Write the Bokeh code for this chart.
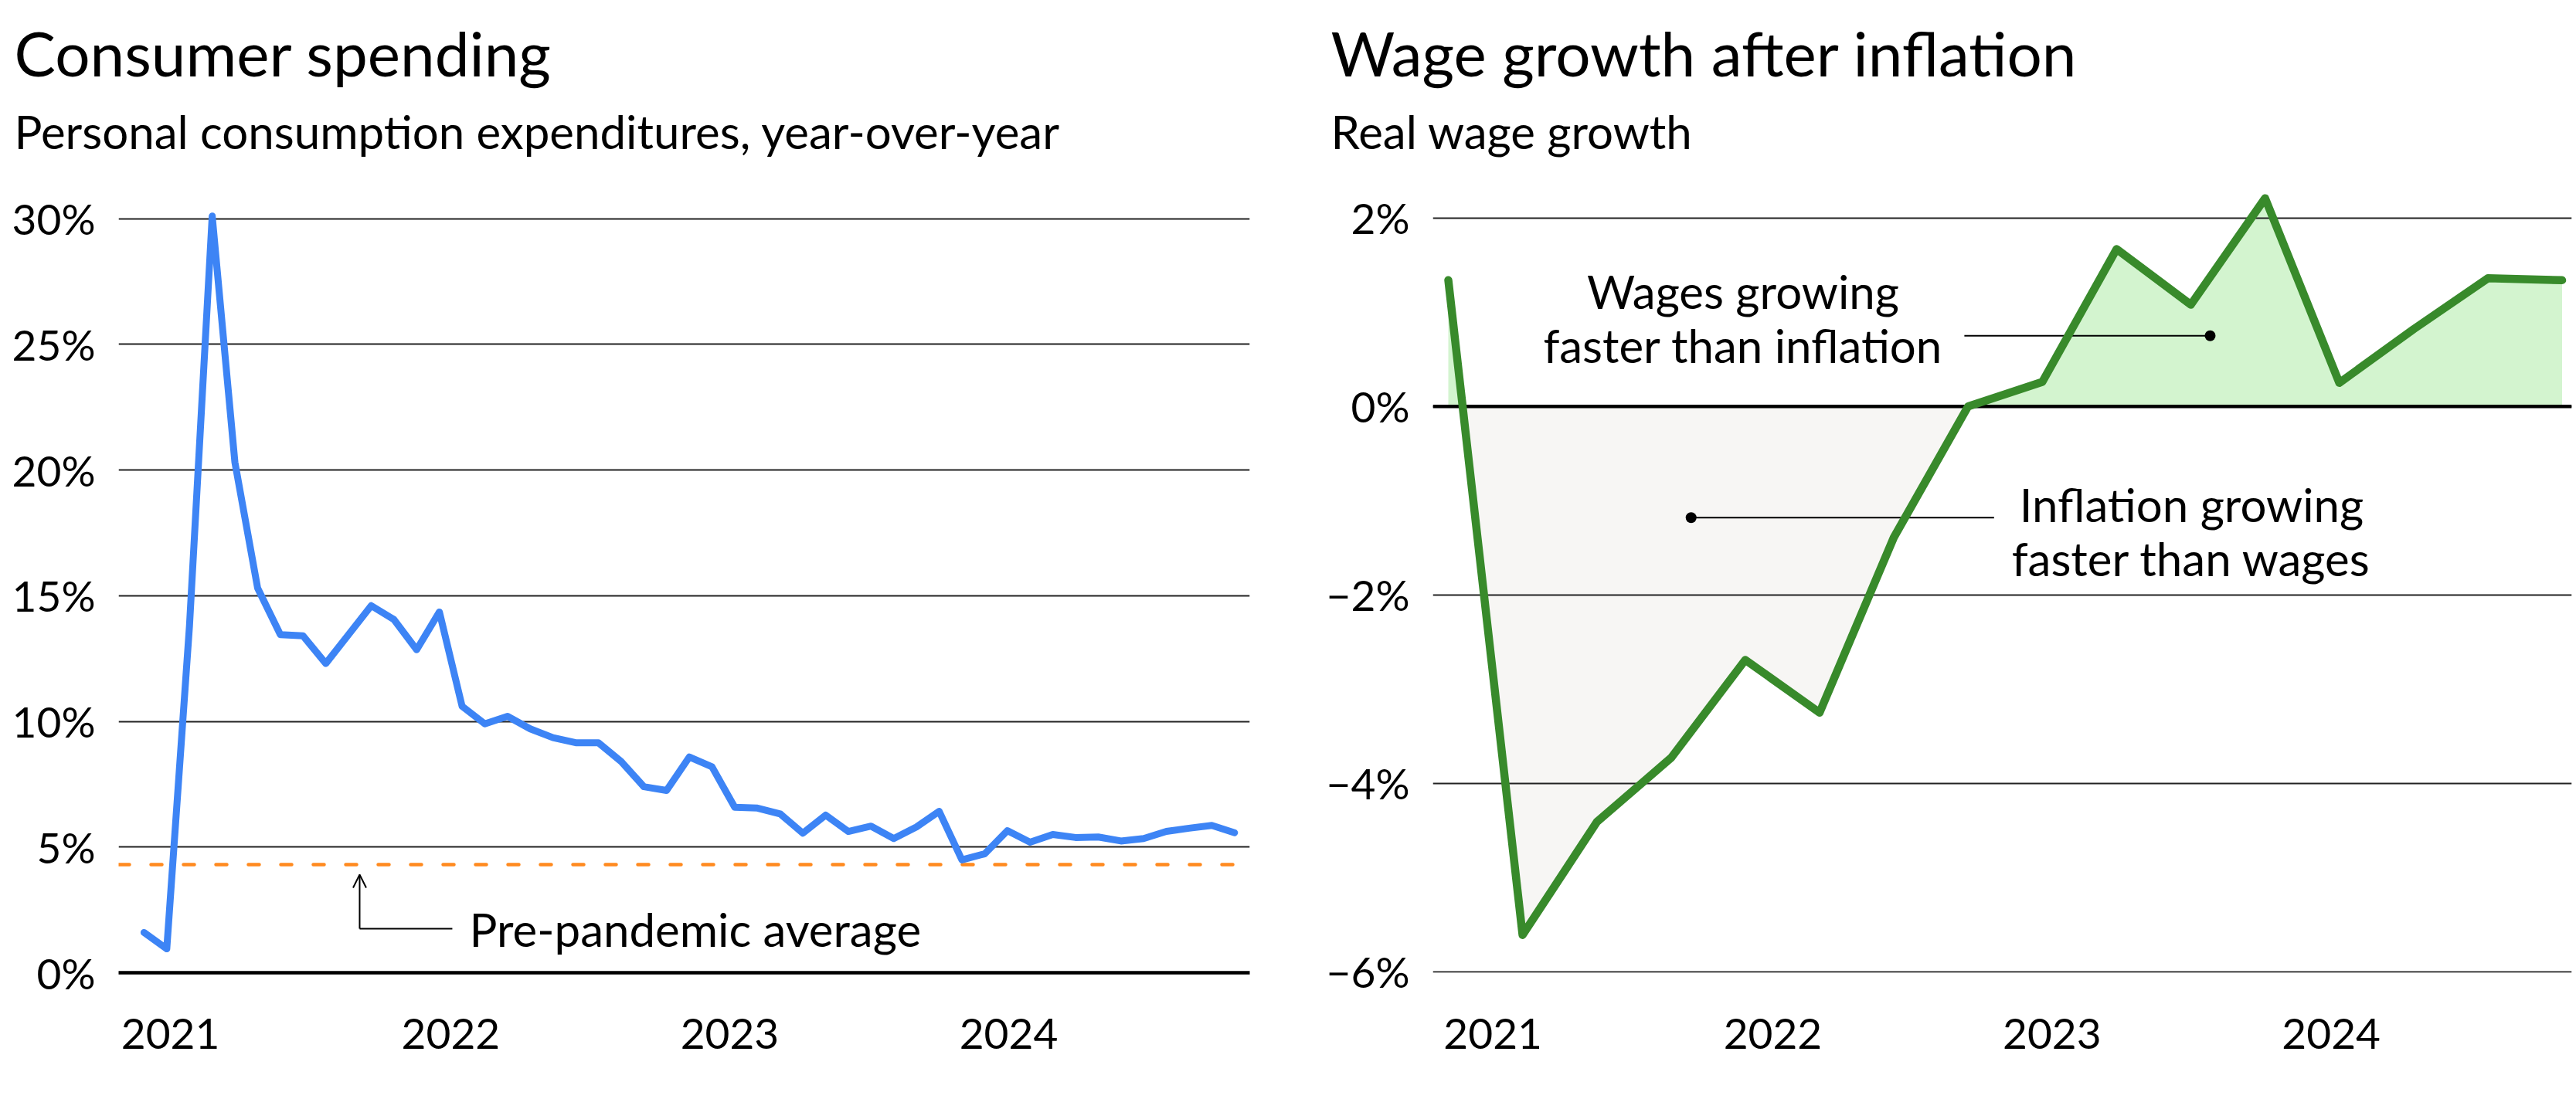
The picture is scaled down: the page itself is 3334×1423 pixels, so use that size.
from bokeh.plotting import figure
from bokeh.models import (Range1d, FixedTicker, CustomJSTickFormatter, Span, Title,
                          Arrow, OpenHead)
from bokeh.layouts import row
from bokeh.embed import file_html
from bokeh.resources import INLINE
from bokeh.core.properties import value

FONT = "Lato"

# ---------------- data: consumer spending (monthly, Dec 2020 .. Dec 2024) ----------------
pce_month_index = list(range(49))
pce_yoy = [1.6, 0.95, 13.8, 30.1, 20.3, 15.3, 13.45, 13.4, 12.3, 13.45,
           14.6, 14.05, 12.85, 14.35, 10.6, 9.9, 10.2, 9.7, 9.35, 9.15,
           9.15, 8.4, 7.4, 7.25, 8.58, 8.19, 6.58, 6.55, 6.32, 5.55,
           6.27, 5.62, 5.83, 5.34, 5.8, 6.42, 4.49, 4.73, 5.65, 5.19,
           5.5, 5.38, 5.4, 5.24, 5.34, 5.62, 5.75, 5.86, 5.57]
pre_pandemic_avg = 4.3
pce_y_ticks = [0, 5, 10, 15, 20, 25, 30]
year_labels = ["2021", "2022", "2023", "2024"]
pce_year_tick_pos = [1.16, 13.5, 25.78, 38.06]

# ---------------- data: real wage growth (quarterly) ----------------
wage_quarter_index = list(range(16))
real_wage_growth = [1.34, -5.61, -4.41, -3.73, -2.69, -3.25, -1.39, 0.0,
                    0.26, 1.67, 1.08, 2.21, 0.25, 0.82, 1.36, 1.34]
wage_y_ticks = [-6, -4, -2, 0, 2]
wage_year_tick_pos = [0.60, 4.37, 8.13, 11.89]

# ---------------- style ----------------
BLUE = "#3d84f5"
ORANGE = "#ff8a1f"
GREEN = "#388a2b"
GREEN_FILL = "#d3f4cf"
GRAY_FILL = "#f7f6f4"
GRID = "#222222"
TXT = "#000000"

H = 1423
MB_TOP = 221
MB_BOTTOM = 164

pct_fmt = CustomJSTickFormatter(code="""
    const v = Math.round(tick);
    return (v < 0 ? "\u2212" + Math.abs(v) : "" + v) + "%";
""")


def year_fmt(pos):
    return CustomJSTickFormatter(args=dict(labels=year_labels, pos=pos), code="""
        let best = 0;
        for (let i = 0; i < pos.length; i++) {
            if (Math.abs(pos[i] - tick) < Math.abs(pos[best] - tick)) best = i;
        }
        return labels[best];
    """)


def make_fig(width, xr, yr, mbl, mbr, title, subtitle, title_offset):
    p = figure(width=width, height=H, x_range=xr, y_range=yr,
               output_backend="svg", toolbar_location=None,
               min_border_left=mbl, min_border_right=mbr,
               min_border_top=MB_TOP, min_border_bottom=MB_BOTTOM)
    p.outline_line_color = None
    p.background_fill_color = "white"
    p.border_fill_color = "white"
    p.xgrid.grid_line_color = None
    p.ygrid.grid_line_color = GRID
    p.ygrid.grid_line_width = 2
    for ax in (p.xaxis[0], p.yaxis[0]):
        ax.major_tick_line_color = None
        ax.minor_tick_line_color = None
        ax.major_label_text_font = FONT
        ax.major_label_text_font_size = "55px"
        ax.major_label_text_color = TXT
    p.yaxis[0].axis_line_color = None
    p.yaxis[0].major_label_standoff = 24
    p.xaxis[0].major_label_standoff = 53
    p.add_layout(Title(text=subtitle, text_font=FONT, text_font_size="60px",
                       text_font_style="normal", text_color=TXT, align="left",
                       offset=title_offset, standoff=32), "above")
    p.add_layout(Title(text=title, text_font=FONT, text_font_size="80px",
                       text_font_style="normal", text_color=TXT, align="left",
                       offset=title_offset, standoff=0), "above")
    return p


# ---------------- left chart ----------------
left = make_fig(1700, Range1d(-1.12, 48.67), Range1d(0, 31.89), 153, 83,
                "Consumer spending",
                "Personal consumption expenditures, year-over-year", -135)
left.yaxis[0].ticker = FixedTicker(ticks=pce_y_ticks)
left.yaxis[0].formatter = pct_fmt
left.ygrid[0].ticker = FixedTicker(ticks=pce_y_ticks)
left.xaxis[0].ticker = FixedTicker(ticks=pce_year_tick_pos)
left.xaxis[0].formatter = year_fmt(pce_year_tick_pos)
left.xaxis[0].axis_line_color = "black"
left.xaxis[0].axis_line_width = 4.5

left.add_layout(Span(location=pre_pandemic_avg, dimension="width",
                     line_color=ORANGE, line_width=4.5, line_dash="14 28",
                     line_cap="round", level="underlay"))
left.line(pce_month_index, pce_yoy, line_color=BLUE, line_width=9,
          line_join="round", line_cap="round")

# annotation: pre-pandemic average
ARROW_X = 9.49
ARROW_TIP_Y = 3.9
ELBOW_Y = 1.75
ELBOW_END_X = 13.57
LABEL_X = 14.32
left.add_layout(Arrow(end=OpenHead(size=17, line_width=2, line_color="black"),
                      x_start=ARROW_X, y_start=ELBOW_Y, x_end=ARROW_X, y_end=ARROW_TIP_Y,
                      line_width=2, line_color="black"))
left.segment(x0=[ARROW_X], y0=[ELBOW_Y], x1=[ELBOW_END_X], y1=[ELBOW_Y],
             line_color="black", line_width=2)
left.text(x=[LABEL_X], y=[ELBOW_Y], text=["Pre-pandemic average"],
          text_font=value(FONT), text_font_size="60px", text_color=TXT,
          text_align="left", text_baseline="middle")

# ---------------- right chart ----------------
right = make_fig(1634, Range1d(-0.208, 15.13), Range1d(-6.01, 2.498), 154, 6,
                 "Wage growth after inflation", "Real wage growth", -132)
right.yaxis[0].ticker = FixedTicker(ticks=wage_y_ticks)
right.yaxis[0].formatter = pct_fmt
right.ygrid[0].ticker = FixedTicker(ticks=wage_y_ticks)
right.xaxis[0].ticker = FixedTicker(ticks=wage_year_tick_pos)
right.xaxis[0].formatter = year_fmt(wage_year_tick_pos)
right.xaxis[0].axis_line_color = None

# split the series at zero crossings for the two shaded areas
fx, fy = [], []
for i, (xv, yv) in enumerate(zip(wage_quarter_index, real_wage_growth)):
    if i > 0:
        y0 = real_wage_growth[i - 1]
        if y0 * yv < 0:
            t = y0 / (y0 - yv)
            fx.append(wage_quarter_index[i - 1] + t)
            fy.append(0.0)
    fx.append(xv)
    fy.append(yv)
zeros = [0.0] * len(fx)
right.varea(x=fx, y1=zeros, y2=[max(v, 0.0) for v in fy], fill_color=GREEN_FILL, level="image")
right.varea(x=fx, y1=[min(v, 0.0) for v in fy], y2=zeros, fill_color=GRAY_FILL, level="image")
right.add_layout(Span(location=0, dimension="width", line_color="black",
                      line_width=4.5, level="underlay"))

# annotation leaders
W_LEAD_X0, W_LEAD_X1, W_LEAD_Y = 6.95, 10.26, 0.75
I_LEAD_X0, I_LEAD_X1, I_LEAD_Y = 3.27, 7.35, -1.18
right.segment(x0=[W_LEAD_X0, I_LEAD_X0], y0=[W_LEAD_Y, I_LEAD_Y],
              x1=[W_LEAD_X1, I_LEAD_X1], y1=[W_LEAD_Y, I_LEAD_Y],
              line_color="black", line_width=2)

right.line(wage_quarter_index, real_wage_growth, line_color=GREEN, line_width=10.5,
           line_join="round", line_cap="round")
right.scatter(x=[W_LEAD_X1, I_LEAD_X0], y=[W_LEAD_Y, I_LEAD_Y], size=14,
              fill_color="black", line_color=None)

right.text(x=[3.97, 3.97, 10.01, 10.01], y=[1.22, 0.65, -1.04, -1.61],
           text=["Wages growing", "faster than inflation",
                 "Inflation growing", "faster than wages"],
           text_font=value(FONT), text_font_size="60px", text_color=TXT,
           text_align="center", text_baseline="alphabetic")

layout = row(left, right)
open("out.html", "w").write(file_html(layout, INLINE))
